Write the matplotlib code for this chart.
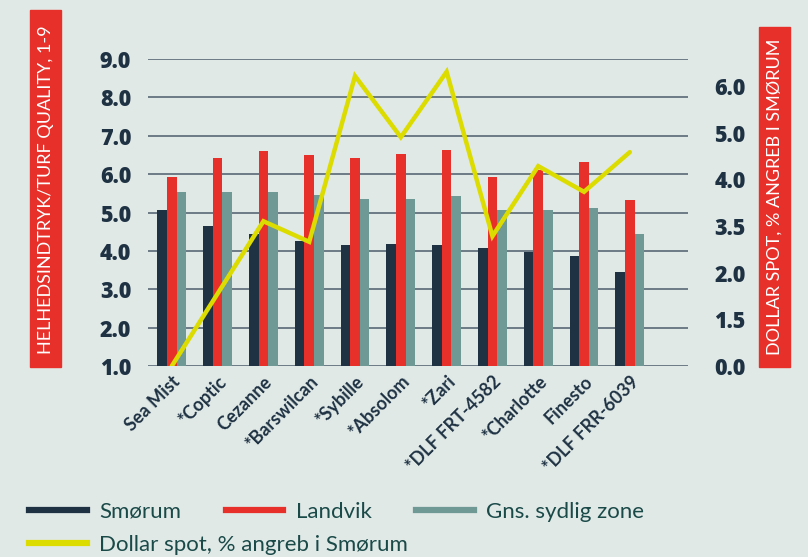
import numpy as np
import matplotlib
matplotlib.use('Agg')
import matplotlib.pyplot as plt
from matplotlib.lines import Line2D
from matplotlib.patches import Rectangle

plt.rcParams['font.family'] = ['Lato', 'DejaVu Sans']

# Data
varieties = ['Sea Mist', '*Coptic', 'Cezanne', '*Barswilcan', '*Sybille', '*Absolom',
             '*Zari', '*DLF FRT-4582', '*Charlotte', 'Finesto', '*DLF FRR-6039']
smorum = [5.06, 4.65, 4.44, 4.26, 4.15, 4.18, 4.15, 4.07, 3.97, 3.86, 3.45]
landvik = [5.92, 6.42, 6.60, 6.49, 6.42, 6.52, 6.63, 5.92, 6.10, 6.31, 5.32]
sydlig = [5.53, 5.53, 5.53, 5.45, 5.35, 5.35, 5.43, 5.06, 5.06, 5.11, 4.44]
# dollar spot, in right-axis tick positions
dollar = [0.0, 1.55, 3.10, 2.66, 6.21, 4.90, 6.30, 2.78, 4.28, 3.73, 4.58]

left_ticks = [1, 2, 3, 4, 5, 6, 7, 8, 9]
right_labels = ['0.0', '1.5', '2.0', '3.5', '4.0', '5.0', '6.0']

bg = '#e1e9e7'
navy = '#1e3243'
red = '#e8302a'
teal = '#6e9995'
yellow = '#dcdc00'
tickfont = dict(family=['Open Sans', 'DejaVu Sans'], size=15.5, weight=800)

fig = plt.figure(figsize=(8.08, 5.57), dpi=100, facecolor=bg)
ax1 = fig.add_axes([148/808, 1-366/557, 540/808, 307/557])
ax1.set_facecolor(bg)

x = np.arange(len(varieties))
w = 0.21
ax1.bar(x - w, smorum, w, color=navy, zorder=3)
ax1.bar(x, landvik, w, color=red, zorder=3)
ax1.bar(x + w, sydlig, w, color=teal, zorder=3)
ax1.set_ylim(1, 9)
ax1.set_xlim(-0.52, 11.27)
ax1.set_yticks(left_ticks)
ax1.set_yticklabels([f'{t:.1f}' for t in left_ticks], fontdict=tickfont, color=navy)
ax1.yaxis.grid(True, color='#6b7b86', linewidth=1.4, zorder=0)
ax1.set_axisbelow(True)
ax1.tick_params(axis='y', length=0, pad=12)
ax1.tick_params(axis='x', length=0, pad=5)
ax1.set_xticks(x)
ax1.set_xticklabels(varieties, rotation=45, ha='right', rotation_mode='anchor',
                    fontsize=13, fontweight='bold', color=navy)
for s in ax1.spines.values():
    s.set_visible(False)

ax2 = ax1.twinx()
ax2.plot(x, dollar, color=yellow, linewidth=3.2, solid_capstyle='round',
         solid_joinstyle='miter', zorder=5)
ax2.set_ylim(0, 307/46.7)
ax2.set_yticks(range(len(right_labels)))
ax2.set_yticklabels(right_labels, fontdict=tickfont, color=navy)
ax2.tick_params(axis='y', length=0, pad=19)
for s in ax2.spines.values():
    s.set_visible(False)

# red boxes with axis titles
fig.patches.append(Rectangle((30/808, 1-367/557), 31/808, 357/557,
                             transform=fig.transFigure, color=red, zorder=0))
fig.text(46/808, 1-190/557, 'HELHEDSINDTRYK/TURF QUALITY, 1-9', rotation=90,
         ha='center', va='center', color='white', fontsize=13)
fig.patches.append(Rectangle((759/808, 1-367/557), 31/808, 340/557,
                             transform=fig.transFigure, color=red, zorder=0))
fig.text(775/808, 1-197/557, 'DOLLAR SPOT, % ANGREB I SMØRUM', rotation=90,
         ha='center', va='center', color='white', fontsize=13)

# legend
handles = [Line2D([], [], color=navy, lw=4.5), Line2D([], [], color=red, lw=4.5),
           Line2D([], [], color=teal, lw=4.5), Line2D([], [], color=yellow, lw=4.5)]
labels = ['Smørum', 'Landvik', 'Gns. sydlig zone', 'Dollar spot, % angreb i Smørum']
fig.legend(handles[:3], labels[:3], loc='center left', bbox_to_anchor=(18/808, 1-512/557),
           ncol=3, frameon=False, fontsize=16, handlelength=2.6, columnspacing=2.0,
           labelcolor='#1a4a48', handletextpad=0.55, borderpad=0)
fig.legend(handles[3:], labels[3:], loc='center left', bbox_to_anchor=(18/808, 1-545/557),
           frameon=False, fontsize=16, handlelength=2.6, labelcolor='#1a4a48',
           handletextpad=0.55, borderpad=0)

fig.savefig('out.png', dpi=100, facecolor=bg)
